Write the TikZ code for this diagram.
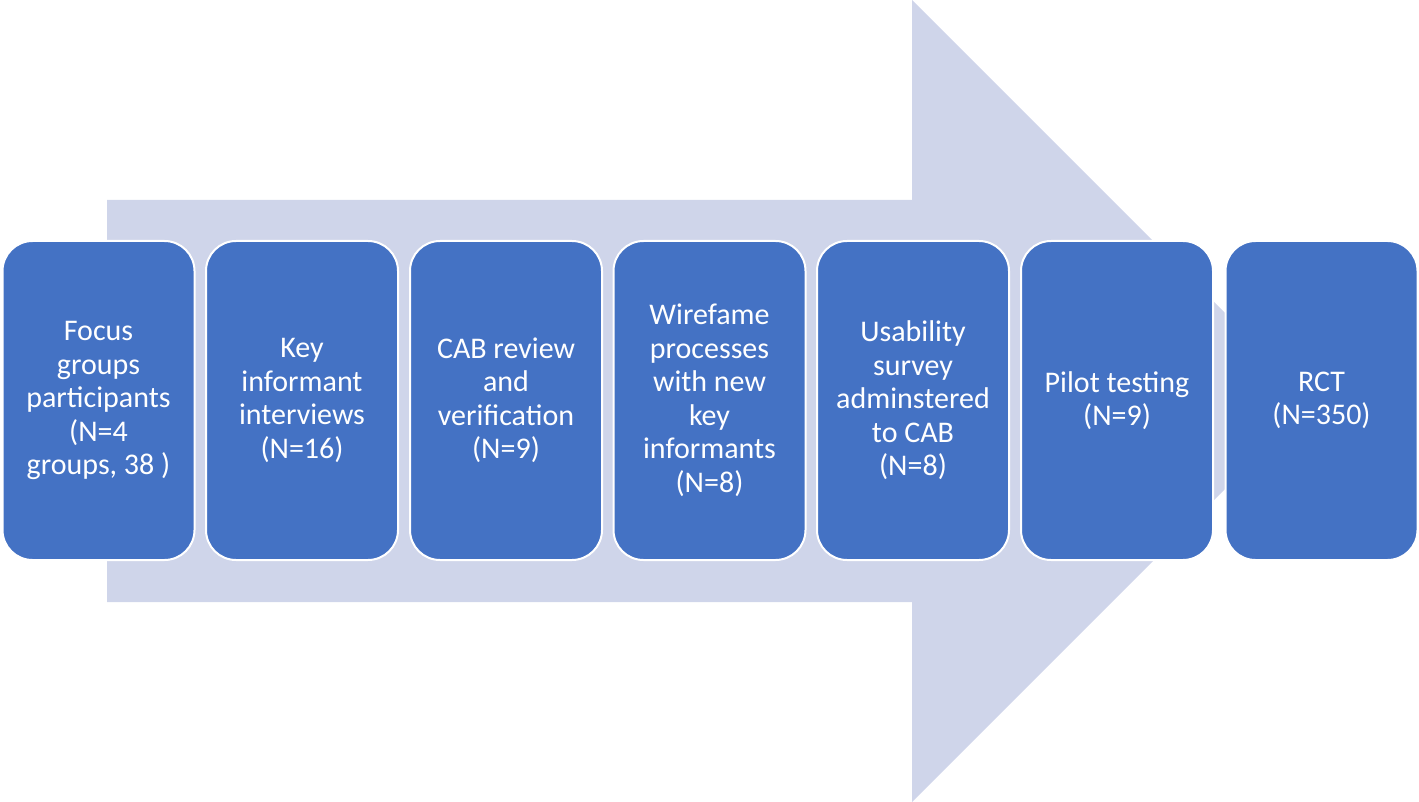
\documentclass[tikz,border=0pt]{standalone}
\usepackage{fontspec}
\setmainfont{Carlito}
\usepackage{tikz}

\definecolor{boxblue}{HTML}{4472C4}
\definecolor{arrowblue}{HTML}{CFD5EA}

\begin{document}
\begin{tikzpicture}
	[x=1pt,y=-1pt,every node/.style={rectangle,rounded corners=30pt,fill=boxblue,draw=white,line width=2pt,
	minimum width=192pt,minimum height=319pt,text=white,align=center,font=\fontsize{30}{33.5}\selectfont}]
	\useasboundingbox (0,0) rectangle (1419,802);
	% big arrow behind the steps
	\fill[arrowblue] (107,200) -- (912,200) -- (912,0) -- (1313,401) -- (912,802) -- (912,602) -- (107,602) -- cycle;
	
	\node (n1) at (98.5,400.5) {Focus\\groups\\participants\\(N=4\\groups, 38 )};
	\node (n2) at (302,400.5) {Key\\informant\\interviews\\(N=16)};
	\node (n3) at (506,400.5) {CAB review\\and\\verification\\(N=9)};
	\node (n4) at (709.5,400.5) {Wirefame\\processes\\with new\\key\\informants\\(N=8)};
	\node (n5) at (913,400.5) {Usability\\survey\\adminstered\\to CAB\\(N=8)};
	\node (n6) at (1117,400.5) {Pilot testing\\(N=9)};
	\node (n7) at (1321.5,400.5) {RCT\\(N=350)};
\end{tikzpicture}
\end{document}
